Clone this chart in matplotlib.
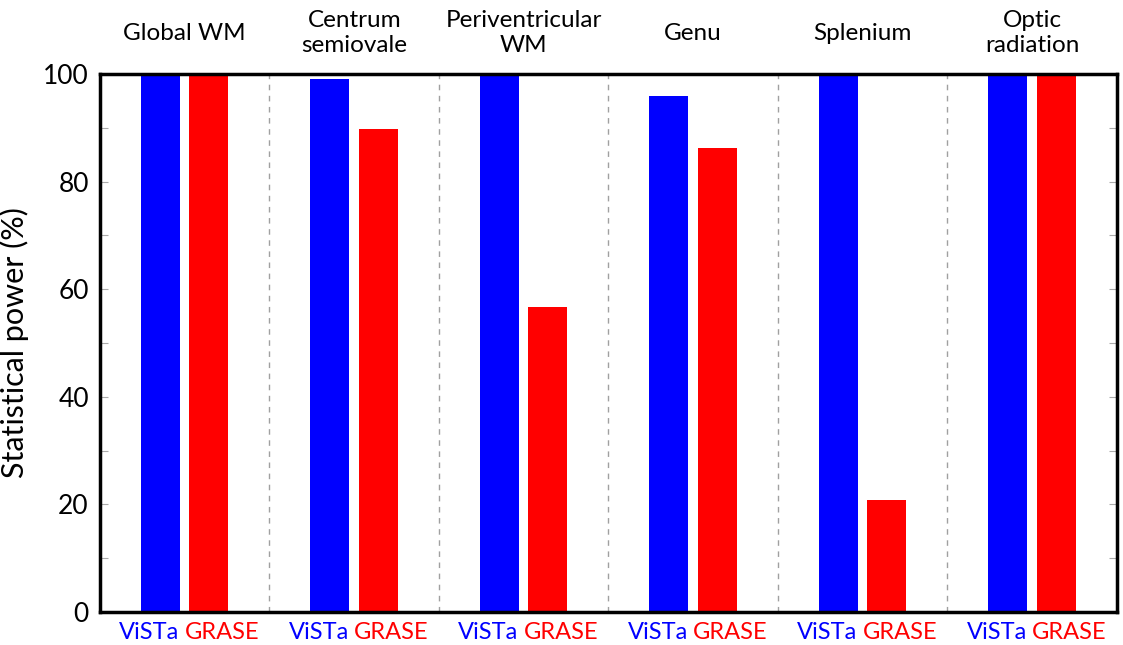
import numpy as np
import matplotlib
matplotlib.use("Agg")
import matplotlib.pyplot as plt
from matplotlib.ticker import MultipleLocator

regions = ["Global WM", "Centrum\nsemiovale", "Periventricular\nWM", "Genu",
           "Splenium", "Optic\nradiation"]
vista = [100, 99.1, 100, 95.9, 100, 100]
grase = [99.6, 89.8, 56.7, 86.2, 20.8, 99.6]

plt.rcParams['font.family'] = ['Lato', 'DejaVu Sans']

fig = plt.figure(figsize=(11.23, 6.45), dpi=100)
ax = fig.add_axes([0.089, 0.0512, 0.9056, 0.834])

x = np.arange(len(regions)) + 0.5
w = 0.23
ax.bar(x - 0.143, vista, w, color='#0000ff', zorder=3)
ax.bar(x + 0.143, grase, w, color='#ff0000', zorder=3)

# dashed separators between groups
for i in range(1, len(regions)):
    ax.axvline(i, color='#a0a0a0', ls=(0, (4, 4)), lw=1, zorder=1)

ax.set_xlim(0, len(regions))
ax.set_ylim(0, 100)
ax.set_xticks([])
ax.yaxis.set_major_locator(MultipleLocator(20))
ax.yaxis.set_minor_locator(MultipleLocator(10))
ax.tick_params(axis='y', which='both', direction='in', length=6, width=0.8,
               color='#aaaaaa', right=True, labelsize=19, pad=8)
ax.tick_params(axis='y', which='minor', length=6)
for s in ax.spines.values():
    s.set_linewidth(2.5)
    s.set_zorder(5)

ax.set_ylabel("Statistical power (%)", fontsize=22, labelpad=10)

for xi, name in zip(x, regions):
    ax.text(xi, 1.076, name, transform=ax.get_xaxis_transform(), ha='center',
            va='center', fontsize=17.5, linespacing=1.25)
    ax.text(xi - 0.03, -0.038, "ViSTa", transform=ax.get_xaxis_transform(),
            ha='right', va='center', fontsize=17, color='#0000ff')
    ax.text(xi - 0.0, -0.038, "GRASE", transform=ax.get_xaxis_transform(),
            ha='left', va='center', fontsize=17, color='#ff0000')

fig.savefig("out.png", dpi=100)
